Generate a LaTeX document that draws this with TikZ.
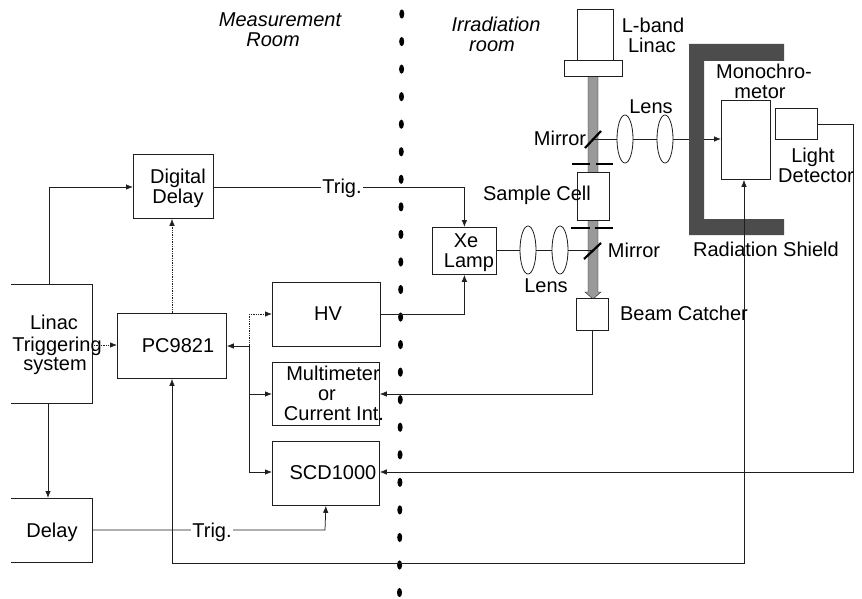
\documentclass[tikz,border=0pt]{standalone}
\usepackage{fontspec}
\setmainfont{Liberation Sans}
\usetikzlibrary{arrows.meta,shapes.geometric}
\definecolor{ink}{gray}{0.12}
\definecolor{shield}{gray}{0.30}
\definecolor{beam}{gray}{0.60}
\tikzset{
 box/.style={draw=ink,line width=0.8pt,fill=white,inner sep=0pt,anchor=north west},
 wire/.style={draw=ink,line width=0.75pt},
 arr/.style={wire,-{Latex[length=7pt,width=5.5pt]}},
 dwire/.style={wire,densely dotted},
 darr/.style={arr,densely dotted},
 lbl/.style={font=\fontsize{20}{24}\selectfont,text=black,align=center,inner sep=0pt,text height=14.4pt,text depth=0pt},
 ilbl/.style={lbl,font=\fontsize{20}{24}\selectfont\itshape},
 tlbl/.style={lbl,fill=white,inner xsep=1pt},
 lens/.style={draw=ink,line width=0.8pt,fill=white,ellipse,inner sep=0pt,minimum width=16pt,minimum height=48pt},
 mirror/.style={draw=black,line width=2.2pt},
 slit/.style={draw=black,line width=1.6pt},
}
\begin{document}
\begin{tikzpicture}[x=1pt,y=-1pt]
\useasboundingbox[fill=white] (0,0) rectangle (862,599);
% separator
\foreach \i in {0,...,21} \fill[black] ({401.8-0.11*\i},{14+27.55*\i}) ellipse (2.5pt and 4.6pt);
% shield
\fill[shield] (689,44) -- (784,44) -- (784,61) -- (704,61) -- (704,219) -- (784,219) -- (784,235) -- (689,235) -- cycle;
% beam
\fill[beam,draw=ink,line width=0.4pt] (588,76) -- (598,76) -- (598,292) -- (601,292) -- (593,299) -- (585,292) -- (588,292) -- cycle;
% boxes
\node[box,minimum width=36pt,minimum height=51pt] (linac) at (577,9) {};
\node[box,minimum width=58pt,minimum height=16pt] (flange) at (564,60) {};
\node[box,minimum width=32.5pt,minimum height=48pt] (cell) at (576.5,172) {};
\node[box,minimum width=32pt,minimum height=32pt] (catcher) at (576,298) {};
\node[box,minimum width=48.5pt,minimum height=79pt] (mono) at (721,100) {};
\node[box,minimum width=42pt,minimum height=31pt] (det) at (775,108) {};
\node[box,minimum width=64pt,minimum height=47pt] (xe) at (432,227) {};
\node[box,minimum width=80pt,minimum height=64pt] (dd) at (133,154) {};
\node[box,minimum width=109pt,minimum height=65pt] (pc) at (117,313) {};
\node[box,minimum width=108pt,minimum height=64pt] (hv) at (272,282) {};
\node[box,minimum width=107pt,minimum height=63pt] (mm) at (272,362) {};
\node[box,minimum width=107pt,minimum height=64pt] (scd) at (272,441) {};
% open-left boxes
\coordinate (lt) at (11,284); \coordinate (lb) at (11,403);
\coordinate (dt) at (11,498); \coordinate (db) at (11,562);
\draw[wire,line width=0.8pt] (lt) -- (92,284) -- (92,403) -- (lb);
\draw[wire,line width=0.8pt] (dt) -- (92,498) -- (92,562) -- (db);
\coordinate (busT) at (249,314);
\coordinate (busM) at (249,346);
\coordinate (busB) at (249,472);
\coordinate (beamU) at (592,139);
\coordinate (beamL) at (592,250);
% lenses and optical lines
\node[lens] (l1) at (625,139) {};
\node[lens] (l2) at (665,139) {};
\node[lens] (l3) at (528,250) {};
\node[lens] (l4) at (560,250) {};
\draw[wire] (beamU) -- (l1) (l1) -- (l2) (l2) -- (689,139);
\draw[arr] (704,139) -- (mono.west |- beamU);
\draw[wire] (xe.east |- beamL) -- (l3) (l3) -- (l4) (l4) -- (beamL);
\draw[mirror] (585,148) -- (601,131);
\draw[mirror] (584,259) -- (601,243);
\draw[slit] (572,164) -- (590,164) (596,164) -- (613,164);
\draw[slit] (571,228) -- (590,228) (595,228) -- (613,228);
% connectors
\draw[arr] (49,284) -- (49,187) -- (dd.west |- 0,187);
\draw[arr] (dd.east |- 0,187) -- (xe.north |- 0,187) -- (xe.north);
\draw[darr] (pc.north -| 172,0) -- (dd.south -| 172,0);
\draw[darr] (92,345) -- (pc.west |- 0,345);
\draw[arr] (busM) -- (pc.east |- busM);
\draw[dwire] (busM) -- (busT);
\draw[darr] (busT) -- (hv.west |- busT);
\draw[wire] (busM) -- (busB);
\draw[arr] (249,394) -- (mm.west |- 0,394);
\draw[arr] (busB) -- (scd.west |- busB);
\draw[arr] (48,403) -- (48,498);
\draw[arr] (92,530) -- (325,530) -- (scd.south);
\draw[wire,{Latex[length=7pt,width=5.5pt]}-{Latex[length=7pt,width=5.5pt]}] (pc.south -| 172,0) -- (172,563) -- (744,563) -- (mono.south -| 744,0);
\draw[arr] (hv.east |- busT) -- (xe.south |- busT) -- (xe.south);
\draw[arr] (catcher.south -| 592,0) -- (592,394) -- (mm.east |- 0,394);
\draw[arr] (det.east |- 0,124) -- (853,124) -- (853,472) -- (scd.east |- busB);
% labels
\node[ilbl] (t1) at (280,19) {Measurement};
\node[ilbl] (t2) at (273,39) {Room};
\node[ilbl] (t3) at (496,24) {Irradiation};
\node[ilbl] (t4) at (492,44) {room};
\node[lbl] (a1) at (653,25) {L-band};
\node[lbl] (a2) at (652,45) {Linac};
\node[lbl] (a3) at (764,71) {Monochro-};
\node[lbl] (a4) at (760,91) {metor};
\node[lbl] (a5) at (651,106) {Lens};
\node[lbl] (a6) at (560,138) {Mirror};
\node[lbl] (a7) at (813,155) {Light};
\node[lbl] (a8) at (816,175) {Detector};
\node[lbl] (a9) at (537,193) {Sample Cell};
\node[lbl] (a10) at (634,250) {Mirror};
\node[lbl] (a11) at (766,249) {Radiation Shield};
\node[lbl] (a12) at (546,285) {Lens};
\node[lbl] (a13) at (684,313) {Beam Catcher};
\node[lbl] (a14) at (466,240) {Xe};
\node[lbl] (a15) at (469,260) {Lamp};
\node[lbl] (a16) at (178,176) {Digital};
\node[lbl] (a17) at (178,196) {Delay};
\node[tlbl] (a18) at (342,186) {Trig.};
\node[lbl] (a19) at (54,322) {Linac};
\node[lbl] (a20) at (57,344) {Triggering};
\node[lbl] (a21) at (55,363) {system};
\node[lbl] (a22) at (178,345) {PC9821};
\node[lbl] (a23) at (328,313) {HV};
\node[lbl] (a24) at (333,373) {Multimeter};
\node[lbl] (a25) at (327,393) {or};
\node[lbl] (a26) at (334,413) {Current Int.};
\node[lbl] (a27) at (333,472) {SCD1000};
\node[lbl] (a28) at (52,530) {Delay};
\node[tlbl] (a29) at (212,530) {Trig.};
\end{tikzpicture}
\end{document}
